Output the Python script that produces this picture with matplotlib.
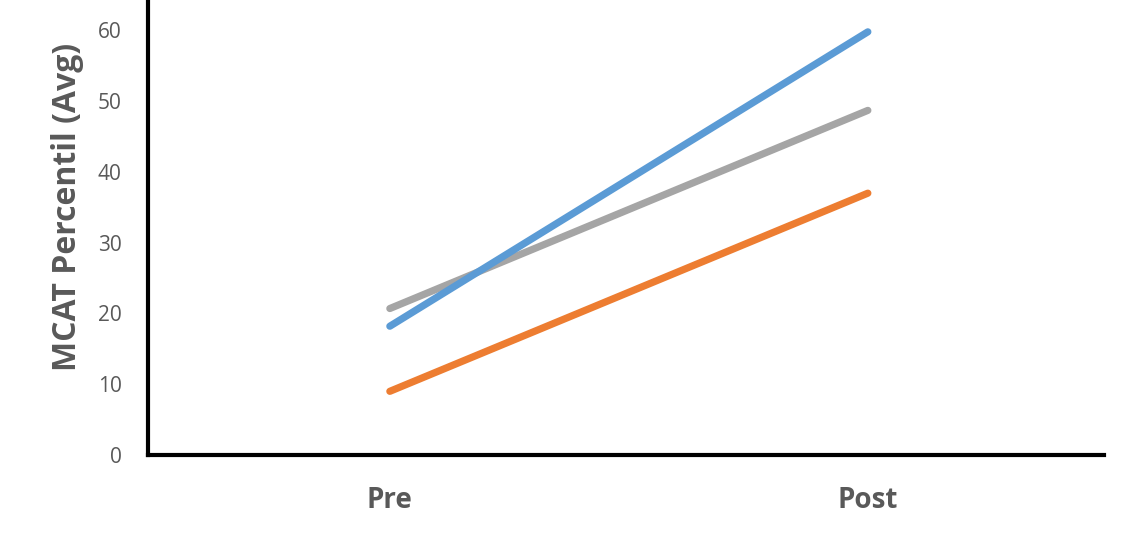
import matplotlib.pyplot as plt

stages = ["Pre", "Post"]
blue_vals = [18.2, 59.8]
gray_vals = [20.7, 48.7]
orange_vals = [9.0, 37.0]
yticks = [0, 10, 20, 30, 40, 50, 60]

plt.rcParams["font.family"] = ["Open Sans", "DejaVu Sans"]

fig = plt.figure(figsize=(11.4, 5.4), dpi=100)
ax = fig.add_axes([0.1298, 0.1574, 0.8386, 0.8426])

x = list(range(len(stages)))
for vals, col in [(gray_vals, "#A5A5A5"), (orange_vals, "#ED7D31"), (blue_vals, "#5B9BD5")]:
    ax.plot(x, vals, color=col, lw=5.2, solid_capstyle="round")

ax.set_xlim(-0.506, 1.494)
ax.set_ylim(0, 64.3)
ax.set_xticks(x)
ax.set_xticklabels(stages, fontsize=20, fontweight="bold", color="#595959")
ax.set_yticks(yticks)
ax.set_yticklabels([str(v) for v in yticks], fontsize=15, color="#595959")
ax.tick_params(length=0)
ax.tick_params(axis="y", pad=19)
ax.tick_params(axis="x", pad=22)

for s in ["top", "right"]:
    ax.spines[s].set_visible(False)
for s in ["left", "bottom"]:
    ax.spines[s].set_linewidth(3)
    ax.spines[s].set_color("black")

ax.set_ylabel("MCAT Percentil (Avg)", fontsize=23, fontweight="bold", color="#595959")
ax.yaxis.set_label_coords(-0.067, 0.545)

fig.savefig("out.png", dpi=100)
